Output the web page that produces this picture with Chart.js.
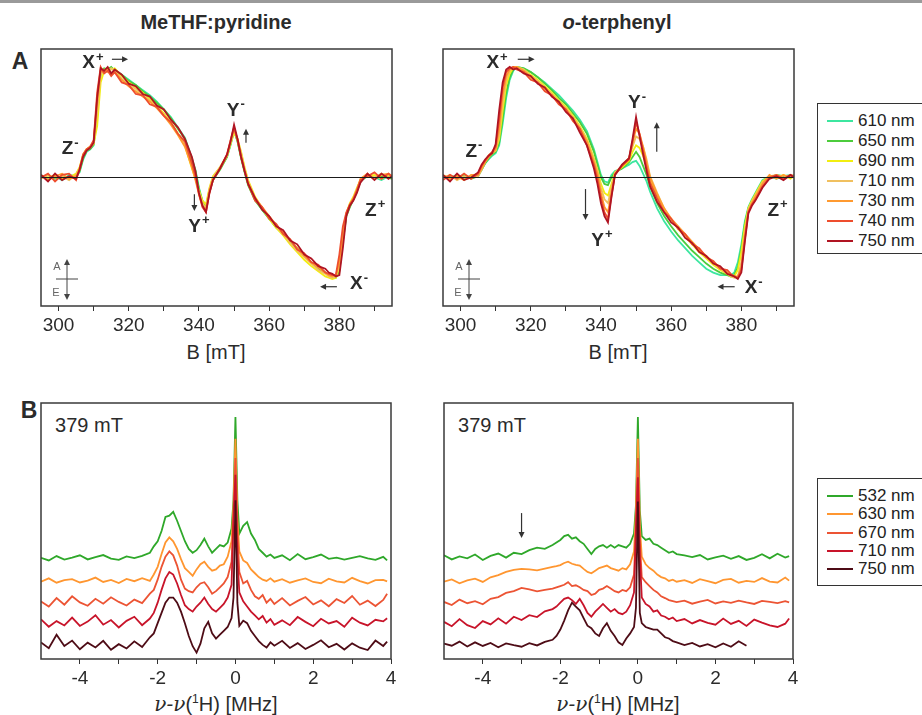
<!DOCTYPE html>
<html>
<head>
<meta charset="utf-8">
<script src="https://cdn.jsdelivr.net/npm/chart.js@4.4.1/dist/chart.umd.min.js"></script>
<style>
  body { margin: 0; width: 922px; height: 715px; overflow: hidden; background: #fff; position: relative;
         font-family: 'Liberation Sans', Arial, sans-serif; color: #2b2b2b; }
  canvas { position: absolute; }
  .t { position: absolute; transform: translate(-50%, -50%); white-space: nowrap; }
  .topbar { position: absolute; left: 0; top: 0; width: 922px; height: 3px; background: #9a9a9a; }
  .legend { position: absolute; border: 1.5px solid #333; background: #fff; box-sizing: border-box; }
  .legend .row { display: flex; align-items: center; font-size: 17px; color: #222; }
  .legend .sw { width: 26px; height: 2px; margin-right: 5px; }
  .nu { font-family: 'DejaVu Serif', 'Liberation Serif', serif; font-style: italic; }
</style>
</head>
<body>
<div class="topbar"></div>

<div class="t" style="left:216px;top:22px;font-size:20px;font-weight:bold;">MeTHF:pyridine</div>
<div class="t" style="left:617px;top:22px;font-size:20px;font-weight:bold;"><i>o</i>-terphenyl</div>
<div class="t" style="left:20px;top:61px;font-size:23px;font-weight:bold;">A</div>
<div class="t" style="left:29px;top:410px;font-size:23px;font-weight:bold;">B</div>

<div class="t" style="left:216px;top:352px;font-size:20px;">B [mT]</div>
<div class="t" style="left:618px;top:352px;font-size:20px;">B [mT]</div>
<div class="t" style="left:216px;top:704px;font-size:20px;"><span class="nu">ν-ν</span>(<sup style="font-size:12px">1</sup>H) [MHz]</div>
<div class="t" style="left:618px;top:704px;font-size:20px;"><span class="nu">ν-ν</span>(<sup style="font-size:12px">1</sup>H) [MHz]</div>

<div class="t" style="left:89px;top:425px;font-size:20px;">379 mT</div>
<div class="t" style="left:492px;top:425px;font-size:20px;">379 mT</div>

<canvas id="aLeft"></canvas>
<canvas id="aRight"></canvas>
<canvas id="bLeft"></canvas>
<canvas id="bRight"></canvas>

<div id="legendA" class="legend" style="left:817px;top:103px;width:110px;height:151px;padding:7px 0 0 9px;"></div>
<div id="legendB" class="legend" style="left:817px;top:478px;width:110px;height:108px;padding:8px 0 0 9px;"></div>

<script>
// ---- panel A: field sweep, B in mT ----
const fieldA = [295, 297, 299, 301, 303, 305,
  306, 307, 308, 309, 310, 311, 312, 313, 314, 315, 316,
  318, 320, 322, 324, 326, 328, 330, 332, 334, 336,
  338, 339, 340, 341, 342, 343, 344, 346, 348, 349, 350, 351, 352, 353, 354,
  356, 358, 360, 362, 364, 366, 368, 370, 372, 374, 376,
  377, 378, 379, 380, 381, 382, 383, 384, 385, 386,
  388, 390, 392, 394, 395];
const wavesA = ['610 nm', '650 nm', '690 nm', '710 nm', '730 nm', '740 nm', '750 nm'];
const colorsA = ['#3ce6a0', '#4ccc3c', '#f2ee10', '#f0c060', '#ff9a30', '#ee4e2e', '#b01422'];

// MeTHF:pyridine
const methf610 = [0.02, -0.01, 0.01, -0.02, 0.02, 0.01,
  0.04, 0.14, 0.20, 0.22, 0.25, 0.48, 0.80, 0.84, 0.85, 0.85, 0.84,
  0.80, 0.76, 0.72, 0.68, 0.64, 0.59, 0.53, 0.47, 0.39, 0.31,
  0.15, 0.06, -0.08, -0.18, -0.22, -0.10, -0.01, 0.07, 0.16, 0.25, 0.36, 0.28, 0.16, 0.05, -0.05,
  -0.17, -0.25, -0.32, -0.38, -0.44, -0.50, -0.56, -0.61, -0.66, -0.70, -0.74,
  -0.76, -0.77, -0.77, -0.72, -0.48, -0.29, -0.22, -0.17, -0.10, -0.03,
  0.01, 0.0, -0.02, 0.01, 0.0];
const methf650 = [0.0, 0.02, -0.01, 0.01, -0.01, 0.02,
  0.05, 0.15, 0.21, 0.22, 0.26, 0.52, 0.82, 0.85, 0.84, 0.86, 0.83,
  0.80, 0.75, 0.72, 0.67, 0.63, 0.58, 0.53, 0.46, 0.38, 0.30,
  0.14, 0.05, -0.09, -0.19, -0.23, -0.11, -0.02, 0.06, 0.16, 0.26, 0.37, 0.28, 0.15, 0.04, -0.06,
  -0.18, -0.25, -0.32, -0.39, -0.44, -0.50, -0.55, -0.61, -0.66, -0.71, -0.74,
  -0.76, -0.77, -0.78, -0.73, -0.50, -0.30, -0.23, -0.17, -0.11, -0.03,
  0.02, -0.01, 0.01, 0.0, -0.01];
const methf690 = [0.01, 0.0, 0.02, -0.01, 0.0, 0.03,
  0.08, 0.18, 0.22, 0.24, 0.26, 0.40, 0.74, 0.83, 0.85, 0.84, 0.85,
  0.79, 0.74, 0.70, 0.66, 0.61, 0.56, 0.50, 0.43, 0.34, 0.25,
  0.07, -0.01, -0.10, -0.18, -0.21, -0.08, 0.01, 0.08, 0.17, 0.26, 0.35, 0.30, 0.20, 0.08, -0.02,
  -0.15, -0.24, -0.32, -0.39, -0.45, -0.52, -0.58, -0.64, -0.69, -0.73, -0.77,
  -0.78, -0.79, -0.78, -0.70, -0.45, -0.28, -0.20, -0.15, -0.08, -0.02,
  0.01, 0.02, -0.01, 0.02, 0.01];
const methf710 = [-0.01, 0.02, 0.0, 0.01, -0.02, 0.02,
  0.07, 0.17, 0.22, 0.23, 0.27, 0.50, 0.80, 0.84, 0.82, 0.85, 0.83,
  0.77, 0.72, 0.69, 0.64, 0.60, 0.55, 0.49, 0.42, 0.34, 0.26,
  0.09, 0.0, -0.11, -0.20, -0.24, -0.09, 0.0, 0.08, 0.17, 0.27, 0.37, 0.30, 0.19, 0.07, -0.03,
  -0.16, -0.24, -0.31, -0.38, -0.44, -0.51, -0.57, -0.62, -0.67, -0.72, -0.75,
  -0.77, -0.78, -0.77, -0.68, -0.46, -0.29, -0.21, -0.16, -0.09, -0.02,
  0.02, 0.0, 0.03, 0.0, 0.02];
const methf730 = [0.02, -0.02, 0.01, 0.03, -0.01, 0.01,
  0.06, 0.17, 0.21, 0.24, 0.28, 0.58, 0.83, 0.82, 0.84, 0.80, 0.82,
  0.76, 0.71, 0.67, 0.63, 0.59, 0.54, 0.48, 0.41, 0.33, 0.24,
  0.08, -0.02, -0.13, -0.22, -0.25, -0.10, -0.01, 0.07, 0.17, 0.28, 0.38, 0.29, 0.17, 0.06, -0.04,
  -0.16, -0.23, -0.30, -0.37, -0.43, -0.49, -0.55, -0.61, -0.66, -0.70, -0.74,
  -0.76, -0.77, -0.76, -0.66, -0.45, -0.28, -0.21, -0.16, -0.10, -0.01,
  0.03, -0.01, 0.02, 0.03, 0.0];
const methf740 = [0.0, 0.03, -0.03, 0.02, 0.03, -0.02,
  0.07, 0.18, 0.22, 0.24, 0.29, 0.66, 0.86, 0.81, 0.83, 0.79, 0.82,
  0.74, 0.72, 0.65, 0.64, 0.57, 0.55, 0.48, 0.43, 0.34, 0.28,
  0.11, 0.01, -0.13, -0.23, -0.27, -0.12, -0.02, 0.07, 0.18, 0.29, 0.39, 0.29, 0.16, 0.05, -0.05,
  -0.18, -0.23, -0.32, -0.36, -0.44, -0.48, -0.56, -0.59, -0.66, -0.68, -0.74,
  -0.75, -0.76, -0.76, -0.60, -0.38, -0.27, -0.21, -0.17, -0.10, -0.02,
  0.01, 0.04, -0.01, 0.03, 0.01];
const methf750 = [0.02, -0.03, 0.03, -0.02, 0.01, -0.01,
  0.06, 0.16, 0.21, 0.23, 0.27, 0.62, 0.85, 0.83, 0.86, 0.81, 0.84,
  0.80, 0.73, 0.71, 0.65, 0.63, 0.56, 0.53, 0.45, 0.39, 0.30,
  0.16, 0.05, -0.12, -0.22, -0.27, -0.12, -0.02, 0.07, 0.18, 0.28, 0.41, 0.30, 0.16, 0.05, -0.05,
  -0.16, -0.25, -0.30, -0.38, -0.41, -0.49, -0.52, -0.60, -0.63, -0.69, -0.71,
  -0.74, -0.75, -0.77, -0.76, -0.55, -0.30, -0.22, -0.18, -0.12, -0.04,
  0.03, -0.02, 0.03, -0.01, 0.01];

// o-terphenyl
const otp610 = [0.01, 0.0, 0.02, -0.01, 0.01, 0.02,
  0.06, 0.11, 0.14, 0.17, 0.19, 0.25, 0.42, 0.62, 0.76, 0.83, 0.86,
  0.85, 0.82, 0.78, 0.74, 0.69, 0.64, 0.58, 0.52, 0.45, 0.36,
  0.22, 0.12, 0.02, -0.03, -0.04, 0.02, 0.05, 0.07, 0.10, 0.12, 0.13, 0.09, 0.03, -0.03, -0.11,
  -0.24, -0.34, -0.42, -0.49, -0.55, -0.61, -0.66, -0.71, -0.74, -0.76, -0.76,
  -0.76, -0.74, -0.66, -0.52, -0.34, -0.23, -0.17, -0.12, -0.07, -0.02,
  0.01, -0.01, 0.01, 0.02, 0.0];
const otp650 = [0.0, 0.01, -0.01, 0.02, -0.01, 0.01,
  0.06, 0.11, 0.15, 0.18, 0.20, 0.27, 0.46, 0.66, 0.78, 0.84, 0.86,
  0.85, 0.82, 0.78, 0.73, 0.68, 0.62, 0.57, 0.50, 0.43, 0.34,
  0.20, 0.10, 0.0, -0.05, -0.06, 0.0, 0.04, 0.07, 0.12, 0.16, 0.20, 0.16, 0.09, 0.02, -0.07,
  -0.20, -0.30, -0.38, -0.45, -0.51, -0.57, -0.62, -0.67, -0.71, -0.74, -0.76,
  -0.77, -0.76, -0.70, -0.56, -0.36, -0.24, -0.18, -0.13, -0.08, -0.03,
  0.0, 0.02, 0.01, 0.0, 0.02];
const otp690 = [0.01, -0.01, 0.02, 0.0, 0.01, 0.03,
  0.08, 0.13, 0.17, 0.19, 0.21, 0.30, 0.52, 0.72, 0.81, 0.85, 0.86,
  0.84, 0.80, 0.76, 0.71, 0.66, 0.60, 0.55, 0.48, 0.40, 0.30,
  0.15, 0.06, -0.05, -0.12, -0.14, -0.05, 0.04, 0.08, 0.13, 0.20, 0.25, 0.23, 0.17, 0.09, -0.03,
  -0.14, -0.25, -0.33, -0.40, -0.46, -0.52, -0.58, -0.63, -0.68, -0.72, -0.75,
  -0.77, -0.77, -0.72, -0.58, -0.38, -0.24, -0.18, -0.13, -0.08, -0.03,
  0.01, 0.0, 0.02, -0.01, 0.01];
const otp710 = [0.0, 0.02, -0.02, 0.01, 0.0, 0.01,
  0.06, 0.12, 0.16, 0.19, 0.21, 0.33, 0.58, 0.76, 0.83, 0.86, 0.86,
  0.84, 0.79, 0.75, 0.70, 0.65, 0.59, 0.54, 0.47, 0.39, 0.29,
  0.14, 0.05, -0.08, -0.17, -0.20, -0.08, 0.04, 0.09, 0.15, 0.24, 0.32, 0.30, 0.24, 0.14, 0.01,
  -0.12, -0.24, -0.33, -0.39, -0.45, -0.51, -0.57, -0.62, -0.67, -0.71, -0.75,
  -0.77, -0.78, -0.77, -0.66, -0.42, -0.25, -0.19, -0.14, -0.09, -0.04,
  0.01, 0.02, 0.0, 0.02, 0.01];
const otp730 = [0.02, -0.01, 0.01, -0.02, 0.02, 0.02,
  0.07, 0.12, 0.16, 0.19, 0.22, 0.38, 0.64, 0.79, 0.84, 0.86, 0.86,
  0.83, 0.78, 0.74, 0.69, 0.64, 0.58, 0.53, 0.46, 0.38, 0.28,
  0.12, 0.03, -0.12, -0.23, -0.27, -0.12, 0.03, 0.09, 0.15, 0.27, 0.38, 0.34, 0.24, 0.12, 0.0,
  -0.13, -0.24, -0.32, -0.38, -0.44, -0.50, -0.56, -0.61, -0.66, -0.70, -0.74,
  -0.76, -0.77, -0.77, -0.70, -0.45, -0.26, -0.20, -0.15, -0.10, -0.05,
  0.02, -0.01, 0.02, 0.0, 0.02];
const otp740 = [-0.02, 0.02, -0.01, 0.03, -0.01, 0.03,
  0.09, 0.13, 0.17, 0.20, 0.24, 0.45, 0.70, 0.82, 0.85, 0.86, 0.84,
  0.82, 0.76, 0.74, 0.67, 0.64, 0.57, 0.53, 0.44, 0.38, 0.25,
  0.10, -0.01, -0.16, -0.27, -0.32, -0.14, 0.02, 0.09, 0.14, 0.28, 0.43, 0.34, 0.21, 0.08, -0.04,
  -0.16, -0.27, -0.32, -0.40, -0.44, -0.52, -0.55, -0.62, -0.65, -0.71, -0.72,
  -0.75, -0.77, -0.78, -0.72, -0.48, -0.27, -0.21, -0.17, -0.12, -0.07,
  0.0, 0.02, -0.01, 0.02, 0.01];
const otp750 = [0.02, -0.03, 0.03, -0.02, 0.0, 0.04,
  0.10, 0.14, 0.17, 0.19, 0.26, 0.52, 0.74, 0.84, 0.86, 0.84, 0.85,
  0.81, 0.79, 0.73, 0.70, 0.63, 0.59, 0.51, 0.46, 0.35, 0.25,
  0.07, -0.05, -0.20, -0.30, -0.35, -0.15, 0.02, 0.10, 0.15, 0.30, 0.47, 0.32, 0.18, 0.05, -0.07,
  -0.19, -0.27, -0.35, -0.39, -0.47, -0.51, -0.58, -0.61, -0.67, -0.69, -0.75,
  -0.76, -0.77, -0.79, -0.74, -0.50, -0.28, -0.22, -0.18, -0.13, -0.08,
  -0.01, 0.01, -0.02, 0.02, 0.0];

const tickA = [300, 310, 320, 330, 340, 350, 360, 370, 380, 390];
const tickLabelA = [300, 320, 340, 360, 380];

// ---- panel B: ENDOR at 379 mT, offset traces ----
const freqB = [-5, -4.8, -4.6, -4.4, -4.2, -4, -3.8, -3.6, -3.4, -3.2, -3, -2.8, -2.6, -2.4, -2.2,
  -2.1, -2, -1.9, -1.8, -1.7, -1.6, -1.5, -1.4, -1.3, -1.2, -1.1, -1, -0.9, -0.8, -0.7, -0.6, -0.5, -0.4, -0.3, -0.2, -0.1,
  -0.05, 0, 0.05,
  0.1, 0.2, 0.3, 0.4, 0.5, 0.6, 0.7, 0.8, 0.9, 1,
  1.2, 1.4, 1.6, 1.8, 2, 2.2, 2.4, 2.6, 2.8, 3, 3.2, 3.4, 3.6, 3.8, 3.9];
const wavesB = ['532 nm', '630 nm', '670 nm', '710 nm', '750 nm'];
const colorsB = ['#2fa82a', '#ff9630', '#ec5434', '#c8142a', '#4e0c16'];

const endorMethf532 = [39.5, 38.5, 40.2, 38.8, 39.6, 40.5, 38.9, 39.8, 40.6, 39.2, 38.7, 40.1, 39.4, 40.3, 41.5,
  44, 46, 50, 55.5, 56, 57.5, 54, 50, 46, 43, 41.5, 42.5, 44.5, 47, 44, 41.5, 43, 44.5, 44, 45.5, 51,
  62, 94.5, 62,
  49, 52, 53.5, 49, 46.5, 43, 41.5, 40, 40.8, 39.5,
  40.5, 38.6, 41, 39, 39.8, 40.8, 39.1, 39.6, 38.8, 39.5, 40.2, 39.3, 38.7, 39.9, 38.5];
const endorMethf630 = [30.2, 31.5, 29.8, 30.8, 31.2, 29.9, 30.6, 31.8, 30.1, 30.9, 29.7, 31.3, 30.4, 31.6, 30.5,
  33, 36, 41, 45.5, 47.5, 46, 43, 39, 35.5, 34, 32.5, 35, 37, 38, 36, 34.5, 35, 36.5, 37, 40, 46,
  60, 86, 55,
  42, 38.5, 37.5, 35, 33.5, 32, 31, 30.5, 31.5, 30.2,
  31.2, 29.8, 30.7, 31.5, 30.1, 29.6, 31.4, 30.3, 29.9, 31.7, 30.4, 29.5, 30.8, 30.9, 30.3];
const endorMethf670 = [22.5, 20.5, 23.8, 21.2, 24.5, 22.1, 20.8, 23.5, 21.6, 24.1, 22.3, 20.9, 23.2, 21.8, 25.5,
  27, 31, 36, 40, 42, 40.5, 36.5, 31, 27.5, 26.5, 26, 28, 29.5, 30, 28, 25.5, 26.5, 28, 29.5, 32, 38,
  55, 78.5, 50,
  34, 29.5, 30.5, 27, 24.5, 23.5, 25, 22, 23.5, 21.5,
  23.8, 20.9, 22.7, 24.2, 21.3, 22.9, 20.6, 23.4, 21.9, 24.6, 21.2, 22.8, 20.7, 23.1, 25.5];
const endorMethf710 = [15.5, 12.6, 14.8, 13.1, 16.2, 12.9, 14.6, 17.1, 13.4, 15.2, 12.3, 14.9, 16.5, 13.2, 15.8,
  18, 22, 27, 31.5, 34, 33, 29.5, 25, 21, 19.5, 18.5, 20.5, 22, 24, 21.5, 19.5, 18.5, 20, 21.5, 24, 29,
  55, 72, 40,
  26, 22.5, 20.5, 18.5, 17, 15.5, 16.8, 14.2, 15.6, 13.4,
  15.1, 13.2, 16.4, 14.5, 12.8, 15.7, 13.9, 14.8, 12.6, 16.1, 14.2, 13.1, 15.3, 14.7, 15.9];
const endorMethf750 = [6.5, 4.2, 9.5, 5.1, 7.2, 3.8, 6.4, 4.5, 7.1, 3.6, 5.8, 4.1, 6.9, 4.7, 8.5,
  10, 14, 18, 22, 24, 24, 22, 18.5, 14, 9, 5, 2.5, 6, 12, 14.5, 10, 8, 9.5, 11, 12.5, 16,
  24, 62, 22,
  13, 15, 14, 11, 9, 7, 5.5, 4.5, 6.5, 5.2,
  7.1, 4.3, 6.2, 3.9, 5.5, 7.3, 4.6, 5.9, 3.7, 6.1, 4.4, 3.5, 7.2, 5.1, 6.8];

const endorOtp532 = [40.5, 38.9, 40.1, 39.3, 40.8, 38.7, 40.3, 41.2, 39.6, 41.5, 41, 42.5, 43.5, 43, 44.5,
  45.5, 46.5, 48, 48.5, 47, 47.5, 46, 45, 43, 41, 43, 44, 44.5, 43.5, 44.5, 43.5, 44.5, 44, 43.5, 45, 49,
  60, 94.5, 58,
  48, 46.5, 47, 45, 44.5, 43.5, 42.5, 41.5, 42, 41,
  40.5, 39.8, 40.6, 38.9, 39.7, 40.4, 39.1, 40.2, 38.7, 39.5, 40.9, 39.3, 41.1, 39.6, 40.2];
const endorOtp630 = [30.2, 31.1, 29.6, 30.7, 31.4, 30.1, 31.9, 32.8, 34, 34.8, 35.2, 35, 34.6, 35.3, 36,
  36.3, 36.7, 37.5, 38, 37.2, 36.8, 36.5, 35.2, 34, 33.5, 34.5, 35.5, 36, 36.5, 35.5, 35, 34.5, 35.5, 35, 37, 42,
  58, 86, 52,
  40, 37, 35.5, 34.5, 33, 32, 31.5, 30.5, 31, 30.2,
  30.8, 29.7, 31.2, 30.4, 29.6, 30.9, 31.3, 29.8, 30.5, 30.1, 31.6, 30.2, 29.9, 31.8, 30.6];
const endorOtp670 = [22.3, 21.1, 23.2, 21.8, 22.6, 21.4, 23.5, 24.2, 25.8, 26.5, 27.8, 27.2, 26.4, 27, 27.5,
  28, 28.5, 29, 30, 28.5, 28.8, 28, 27, 26.5, 25, 25.5, 27, 27.5, 28.5, 27.5, 26.5, 26, 27, 26.5, 28, 33,
  52, 78.5, 46,
  32, 30, 28.5, 27, 26, 24.5, 23.8, 23, 22.6, 22.2,
  22.8, 21.6, 22.4, 23.1, 21.7, 22.5, 21.9, 22.8, 22.1, 21.5, 22.7, 22.3, 21.8, 22.6, 22.1];
const endorOtp710 = [14.5, 12.8, 15.6, 13.2, 12.1, 14.8, 13.5, 15.9, 13.8, 16.5, 15.2, 17.1, 16.4, 18.6, 19.5,
  20.5, 22, 23.5, 24, 23, 21.5, 23.5, 21, 18, 16.5, 18.5, 20, 21.5, 20, 18.5, 19.5, 18, 17.5, 18.5, 21, 26,
  50, 71, 40,
  24, 21.5, 20.5, 18.5, 19, 17, 16.5, 15.5, 16.2, 14.8,
  15.6, 13.9, 15.2, 14.1, 13.4, 15.8, 13.7, 14.9, 12.9, 15.4, 14.2, 13.1, 12.5, 13.8, 15.8];
const endorOtp750 = [6, 5.2, 6.8, 4.9, 6.5, 5.1, 6.3, 4.6, 6.1, 5.4, 4.8, 6.2, 5.3, 6.7, 7.5,
  9, 11.5, 15, 19, 22, 20.5, 19, 16, 13, 12, 10, 9, 12, 14, 11, 9, 6.5, 5.5, 8, 10, 12.5,
  20, 61.5, 18,
  14, 12.5, 12, 11.5, 11.5, 10, 8.5, 8, 7, 6.5,
  5.4, 6.3, 4.9, 5.8, 4.6, 6.1, 4.8, 6.9, 5.2, null, null, null, null, null, null];

const tickB = [-4, -3, -2, -1, 0, 1, 2, 3, 4];
const tickLabelB = [-4, -2, 0, 2, 4];

const FONT = "'Liberation Sans', Arial, sans-serif";
const INK = '#2b2b2b';

function arrow(ctx, x1, y1, x2, y2) {
  const ang = Math.atan2(y2 - y1, x2 - x1), h = 6;
  ctx.beginPath();
  ctx.moveTo(x1, y1);
  ctx.lineTo(x2 - Math.cos(ang) * 3, y2 - Math.sin(ang) * 3);
  ctx.stroke();
  ctx.beginPath();
  ctx.moveTo(x2, y2);
  ctx.lineTo(x2 - h * Math.cos(ang) + 3 * Math.sin(ang), y2 - h * Math.sin(ang) - 3 * Math.cos(ang));
  ctx.lineTo(x2 - h * Math.cos(ang) - 3 * Math.sin(ang), y2 - h * Math.sin(ang) + 3 * Math.cos(ang));
  ctx.closePath();
  ctx.fill();
}

function supLabel(ctx, x, y, main, sup) {
  ctx.font = 'bold 19px ' + FONT;
  const w1 = ctx.measureText(main).width;
  ctx.font = 'bold 13px ' + FONT;
  const w2 = ctx.measureText(sup).width;
  const x0 = x - (w1 + w2 + 1) / 2;
  ctx.textAlign = 'left';
  ctx.textBaseline = 'middle';
  ctx.font = 'bold 19px ' + FONT;
  ctx.fillText(main, x0, y);
  ctx.font = 'bold 13px ' + FONT;
  ctx.fillText(sup, x0 + w1 + 1, y - 6);
}

// frame, zero line, peak labels and arrows for one panel
function makeDecor(cfg) {
  return {
    id: 'decor',
    afterDatasetsDraw(chart) {
      const { ctx, chartArea: a, scales: { x, y } } = chart;
      ctx.save();
      if (cfg.zeroLine) {
        ctx.strokeStyle = '#1a1a1a';
        ctx.lineWidth = 1.2;
        ctx.beginPath();
        const y0 = y.getPixelForValue(0);
        ctx.moveTo(a.left, y0);
        ctx.lineTo(a.right, y0);
        ctx.stroke();
      }
      ctx.fillStyle = INK;
      (cfg.labels || []).forEach(l => supLabel(ctx, x.getPixelForValue(l.x), y.getPixelForValue(l.y), l.t, l.s));
      ctx.strokeStyle = '#333';
      ctx.fillStyle = '#333';
      ctx.lineWidth = 1.2;
      (cfg.arrows || []).forEach(r => arrow(ctx, x.getPixelForValue(r[0]), y.getPixelForValue(r[1]),
                                            x.getPixelForValue(r[2]), y.getPixelForValue(r[3])));
      if (cfg.ae) {
        const ax = a.left + 26, ay = a.bottom - 27;
        ctx.strokeStyle = '#444'; ctx.fillStyle = '#444'; ctx.lineWidth = 1;
        arrow(ctx, ax, ay, ax, a.bottom - 47);
        arrow(ctx, ax, ay, ax, a.bottom - 6);
        ctx.beginPath();
        ctx.moveTo(a.left + 15, ay);
        ctx.lineTo(a.left + 37, ay);
        ctx.stroke();
        ctx.fillStyle = '#666';
        ctx.font = '11px ' + FONT;
        ctx.textAlign = 'center';
        ctx.textBaseline = 'middle';
        ctx.fillText('A', a.left + 16, a.bottom - 39);
        ctx.fillText('E', a.left + 15, a.bottom - 13);
      }
      ctx.strokeStyle = '#3a3a3a';
      ctx.lineWidth = 1.5;
      ctx.strokeRect(a.left, a.top, a.right - a.left, a.bottom - a.top);
      ctx.restore();
    }
  };
}

function panel(id, box, xs, series, names, colors, xr, yr, ticks, tickLabels, decor) {
  const cv = document.getElementById(id);
  const padL = 20, padR = 20, padT = 10, axisH = 36;
  cv.width = box.r - box.l + padL + padR;
  cv.height = box.b - box.t + padT + axisH;
  cv.style.left = (box.l - padL) + 'px';
  cv.style.top = (box.t - padT) + 'px';
  const datasets = series.map((ys, i) => ({
    label: names[i],
    data: xs.map((xv, j) => ({ x: xv, y: ys[j] })),
    borderColor: colors[i],
    borderWidth: 1.8,
    pointRadius: 0,
    fill: false,
    tension: 0,
    spanGaps: false
  })).reverse(); // first dataset is painted last -> longest wavelength on top
  return new Chart(cv, {
    type: 'line',
    data: { datasets },
    options: {
      responsive: false,
      animation: false,
      devicePixelRatio: 1,
      layout: { padding: { left: padL, right: padR, top: padT, bottom: 0 } },
      plugins: { legend: { display: false }, tooltip: { enabled: false } },
      scales: {
        x: {
          type: 'linear', min: xr[0], max: xr[1],
          afterBuildTicks: s => { s.ticks = ticks.map(v => ({ value: v })); },
          afterFit: s => { s.height = axisH; },
          ticks: {
            autoSkip: false, maxRotation: 0, padding: 3, color: INK,
            font: { family: FONT, size: 19 },
            callback: v => tickLabels.includes(v) ? String(v) : ''
          },
          grid: { drawOnChartArea: false, drawTicks: true, tickLength: 5, color: '#333', lineWidth: 1 },
          border: { display: false }
        },
        y: { display: false, min: yr[0], max: yr[1] }
      }
    },
    plugins: [makeDecor(decor)]
  });
}

panel('aLeft', { l: 41, t: 49, r: 392, b: 306 }, fieldA,
  [methf610, methf650, methf690, methf710, methf730, methf740, methf750], wavesA, colorsA,
  [295, 395], [-1, 1], tickA, tickLabelA, {
    zeroLine: true, ae: true,
    labels: [
      { t: 'X', s: '+', x: 309.8, y: 0.89 }, { t: 'Z', s: '-', x: 303.3, y: 0.22 },
      { t: 'Y', s: '-', x: 350.5, y: 0.52 }, { t: 'Y', s: '+', x: 340.0, y: -0.38 },
      { t: 'Z', s: '+', x: 390.2, y: -0.26 }, { t: 'X', s: '-', x: 385.6, y: -0.83 }
    ],
    arrows: [[315.2, 0.92, 319.8, 0.92], [353.4, 0.27, 353.4, 0.38], [338.7, -0.13, 338.7, -0.26], [379.3, -0.85, 374.5, -0.85]]
  });

panel('aRight', { l: 443, t: 49, r: 794, b: 306 }, fieldA,
  [otp610, otp650, otp690, otp710, otp730, otp740, otp750], wavesA, colorsA,
  [295, 395], [-1, 1], tickA, tickLabelA, {
    zeroLine: true, ae: true,
    labels: [
      { t: 'X', s: '+', x: 310.4, y: 0.89 }, { t: 'Z', s: '-', x: 303.8, y: 0.2 },
      { t: 'Y', s: '-', x: 350.3, y: 0.58 }, { t: 'Y', s: '+', x: 340.3, y: -0.49 },
      { t: 'Z', s: '+', x: 390.3, y: -0.26 }, { t: 'X', s: '-', x: 383.5, y: -0.86 }
    ],
    arrows: [[316.3, 0.92, 321.1, 0.92], [355.9, 0.20, 355.9, 0.43], [335.6, -0.09, 335.6, -0.33], [378.1, -0.85, 373.2, -0.85]]
  });

panel('bLeft', { l: 41, t: 403, r: 391, b: 659 }, freqB,
  [endorMethf532, endorMethf630, endorMethf670, endorMethf710, endorMethf750], wavesB, colorsB,
  [-5, 4], [0, 100], tickB, tickLabelB, {});

panel('bRight', { l: 444, t: 403, r: 793, b: 659 }, freqB,
  [endorOtp532, endorOtp630, endorOtp670, endorOtp710, endorOtp750], wavesB, colorsB,
  [-5, 4], [0, 100], tickB, tickLabelB, { arrows: [[-3, 57, -3, 47.3]] });

function legend(id, names, colors, rowH) {
  const el = document.getElementById(id);
  names.forEach((n, i) => {
    const row = document.createElement('div');
    row.className = 'row';
    row.style.height = rowH + 'px';
    row.innerHTML = '<span class="sw" style="background:' + colors[i] + '"></span>' + n;
    el.appendChild(row);
  });
}
legend('legendA', wavesA, colorsA, 20);
legend('legendB', wavesB, colorsB, 18.3);
</script>
</body>
</html>
